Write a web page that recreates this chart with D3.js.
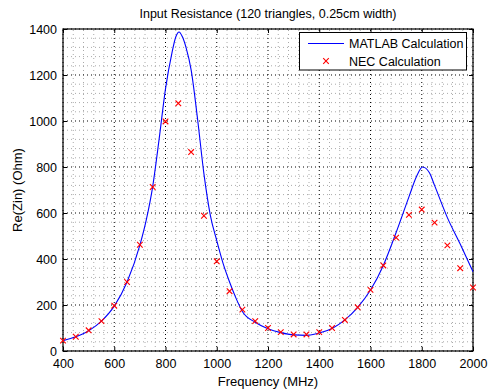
<!DOCTYPE html>
<html>
<head>
<meta charset="utf-8">
<style>
    body { margin: 0; background: #fff; }
    svg { display: block; font-family: 'Liberation Sans', Arial, Helvetica, sans-serif; }
    .tick text { font-size: 12.5px; fill: #000; }
    .tick line { stroke: #000; }
    .domain { display: none; }
    .title { font-size: 12.5px; }
    .axis-label { font-size: 13px; }
    .legend-text { font-size: 12.5px; }
</style>
</head>
<body>
<svg width="490" height="392"></svg>
<script src="https://d3js.org/d3.v7.min.js"></script>
<script>
// MATLAB curve
let matlabFreq = [400, 450, 500, 550, 600, 650, 700, 725, 750, 775, 800, 825, 840, 853, 865, 880, 900, 925, 950, 975,
    1000, 1025, 1050, 1075, 1100, 1150, 1200, 1250, 1300, 1350, 1400, 1450, 1500, 1550, 1600, 1650, 1700, 1750,
    1780, 1803, 1830, 1850, 1900, 1950, 2000]
let matlabRes = [45, 62, 88, 130, 195, 300, 460, 570, 715, 920, 1140, 1295, 1365, 1387, 1368, 1320, 1222, 1010, 770, 590,
    480, 380, 300, 230, 172, 125, 97, 80, 70, 68, 78, 98, 135, 190, 265, 372, 515, 670,
    760, 800, 775, 720, 580, 465, 345]

// NEC points, every 50 MHz
let necFreq = d3.range(400, 2001, 50)
let necRes = [45, 62, 90, 130, 197, 300, 462, 713, 998, 1077, 865, 588, 390, 260, 180, 130, 100, 82, 72, 72,
    82, 100, 135, 190, 266, 372, 493, 592, 615, 558, 459, 360, 276]

let xTicks = [400, 600, 800, 1000, 1200, 1400, 1600, 1800, 2000]
let yTicks = [0, 200, 400, 600, 800, 1000, 1200, 1400]

let svg = d3.select("svg")
let margin = { top: 29, right: 17, bottom: 41, left: 63 }
let width = 490, height = 392

let x = d3.scaleLinear().domain([400, 2000]).range([margin.left, width - margin.right])
let y = d3.scaleLinear().domain([0, 1400]).range([height - margin.bottom, margin.top])

let x0 = x.range()[0], x1 = x.range()[1]
let y0 = y.range()[0], y1 = y.range()[1]

// minor grid
let grid = svg.append("g")
grid.selectAll(".mx")
    .data(d3.range(400, 2001, 40).filter(d => d % 200 != 0))
    .join("line")
    .attr("x1", d => x(d)).attr("x2", d => x(d))
    .attr("y1", y0).attr("y2", y1)
    .attr("stroke", "#aaa").attr("stroke-dasharray", "1,3")
grid.selectAll(".my")
    .data(d3.range(0, 1401, 40).filter(d => d % 200 != 0))
    .join("line")
    .attr("y1", d => y(d)).attr("y2", d => y(d))
    .attr("x1", x0).attr("x2", x1)
    .attr("stroke", "#aaa").attr("stroke-dasharray", "1,3")

// major grid
grid.selectAll(".gx")
    .data(xTicks)
    .join("line")
    .attr("x1", d => x(d)).attr("x2", d => x(d))
    .attr("y1", y0).attr("y2", y1)
    .attr("stroke", "#000").attr("stroke-dasharray", "1,3")
grid.selectAll(".gy")
    .data(yTicks)
    .join("line")
    .attr("y1", d => y(d)).attr("y2", d => y(d))
    .attr("x1", x0).attr("x2", x1)
    .attr("stroke", "#000").attr("stroke-dasharray", "1,3")

// axes with inward ticks
svg.append("g")
    .attr("transform", `translate(0,${y0})`)
    .call(d3.axisBottom(x).tickValues(xTicks).tickSize(-4).tickPadding(8).tickFormat(d3.format("d")))
svg.append("g")
    .attr("transform", `translate(${x0},0)`)
    .call(d3.axisLeft(y).tickValues(yTicks).tickSize(-4).tickPadding(6).tickFormat(d3.format("d")))
svg.append("g")
    .attr("transform", `translate(0,${y1})`)
    .call(d3.axisTop(x).tickValues(xTicks).tickSize(-4).tickFormat(""))
svg.append("g")
    .attr("transform", `translate(${x1},0)`)
    .call(d3.axisRight(y).tickValues(yTicks).tickSize(-4).tickFormat(""))

// box
svg.append("rect")
    .attr("x", x0).attr("y", y1)
    .attr("width", x1 - x0).attr("height", y0 - y1)
    .attr("fill", "none").attr("stroke", "#000").attr("stroke-width", 1.2)

// MATLAB line
let line = d3.line()
    .x(d => x(d[0]))
    .y(d => y(d[1]))
    .curve(d3.curveMonotoneX)

svg.append("path")
    .datum(matlabFreq.map((f, i) => [f, matlabRes[i]]))
    .attr("fill", "none")
    .attr("stroke", "#0000ff")
    .attr("stroke-width", 1.1)
    .attr("d", line)

// NEC markers
function cross(g, size) {
    g.append("path")
        .attr("d", `M${-size},${-size}L${size},${size}M${-size},${size}L${size},${-size}`)
        .attr("stroke", "#ff0000")
        .attr("stroke-width", 1.1)
}
svg.append("g").selectAll("g")
    .data(necFreq.map((f, i) => [f, necRes[i]]))
    .join("g")
    .attr("transform", d => `translate(${x(d[0])},${y(d[1])})`)
    .each(function () { cross(d3.select(this), 2.8) })

// title and labels
svg.append("text")
    .attr("class", "title")
    .attr("x", (x0 + x1) / 2)
    .attr("y", 18)
    .attr("text-anchor", "middle")
    .text("Input Resistance (120 triangles, 0.25cm width)")

svg.append("text")
    .attr("class", "axis-label")
    .attr("x", (x0 + x1) / 2)
    .attr("y", 386)
    .attr("text-anchor", "middle")
    .text("Frequency (MHz)")

svg.append("text")
    .attr("class", "axis-label")
    .attr("transform", `translate(22,${(y0 + y1) / 2}) rotate(-90)`)
    .attr("text-anchor", "middle")
    .text("Re(Zin) (Ohm)")

// legend
let lg = svg.append("g")
lg.append("rect")
    .attr("x", 299.5).attr("y", 32.5)
    .attr("width", 167).attr("height", 37.5)
    .attr("fill", "#fff").attr("stroke", "#000").attr("stroke-width", 1)
lg.append("line")
    .attr("x1", 308).attr("x2", 344)
    .attr("y1", 43.5).attr("y2", 43.5)
    .attr("stroke", "#0000ff").attr("stroke-width", 1.1)
lg.append("g")
    .attr("transform", "translate(326,61)")
    .call(g => cross(g, 2.8))
lg.append("text")
    .attr("class", "legend-text")
    .attr("x", 349).attr("y", 48)
    .text("MATLAB Calculation")
lg.append("text")
    .attr("class", "legend-text")
    .attr("x", 349).attr("y", 65.5)
    .text("NEC Calculation")
</script>
</body>
</html>
